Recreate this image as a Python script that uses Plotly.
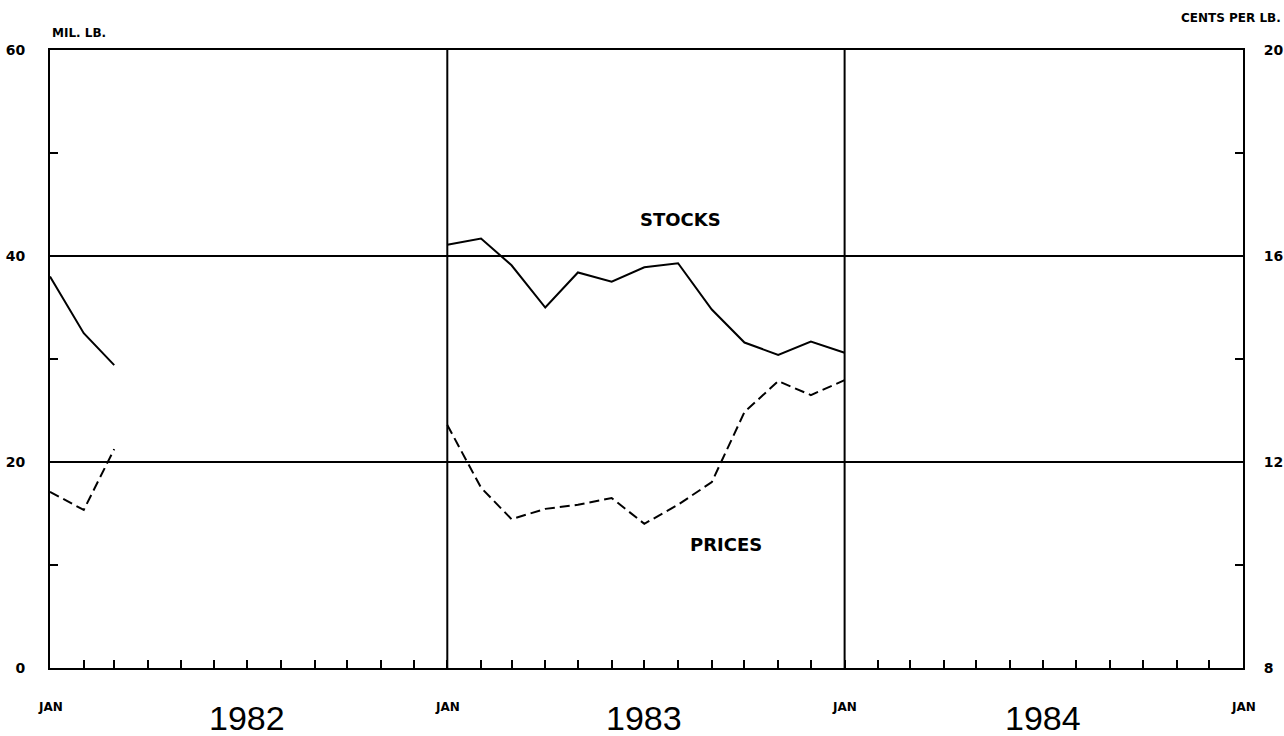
import plotly.graph_objects as go

# ---- data ----
months = [f"{y}-{m:02d}-01" for y in (1982, 1983) for m in range(1, 13)] + ["1984-01-01"]
stocks = [38.0, 32.5, 29.4] + [None] * 9 + [41.1, 41.7, 39.1, 35.0, 38.4, 37.5, 38.9, 39.3, 34.8, 31.6, 30.4, 31.7, 30.6]
prices = [11.42, 11.07, 12.25] + [None] * 9 + [12.72, 11.50, 10.89, 11.09, 11.17, 11.30, 10.80, 11.17, 11.61, 12.97, 13.57, 13.30, 13.59]

year_starts = ["1982-01-01", "1983-01-01", "1984-01-01", "1985-01-01"]
year_mids = ["1982-07-01", "1983-07-01", "1984-07-01"]
year_labels = ["1982", "1983", "1984"]
tick_months = [f"{y}-{m:02d}-01" for y in (1982, 1983, 1984) for m in range(1, 13)] + ["1985-01-01"]

left_ticks = [0, 20, 40, 60]
right_ticks = [8, 12, 16, 20]

BLOCK = dict(family="DejaVu Sans", size=12, color="black", weight="bold")
TICKF = dict(family="DejaVu Sans", size=14, color="black", weight="bold")

fig = go.Figure()
fig.add_trace(go.Scatter(x=months, y=stocks, mode="lines", name="STOCKS",
                         line=dict(color="black", width=2), connectgaps=False,
                         yaxis="y"))
fig.add_trace(go.Scatter(x=months, y=prices, mode="lines", name="PRICES",
                         line=dict(color="black", width=2, dash="10px,5px"), connectgaps=False,
                         yaxis="y2"))

# year-boundary vertical gridlines
for ys in year_starts[1:-1]:
    fig.add_shape(type="line", xref="x", yref="paper", x0=ys, x1=ys, y0=0, y1=1,
                  line=dict(color="black", width=2))

# JAN and year labels
for ys in year_starts:
    fig.add_annotation(x=ys, xref="x", y=0, yref="paper", text="JAN", showarrow=False,
                       yanchor="middle", yshift=-39, font=dict(BLOCK, size=12))
for ym, yl in zip(year_mids, year_labels):
    fig.add_annotation(x=ym, xref="x", y=0, yref="paper", text=yl, showarrow=False,
                       yanchor="middle", yshift=-50,
                       font=dict(family="Liberation Sans", size=34, color="black"))

fig.add_annotation(x=0, xref="paper", y=1, yref="paper", text="MIL. LB.", showarrow=False,
                   xanchor="left", yanchor="middle", xshift=0, yshift=17, font=BLOCK)
fig.add_annotation(x=1, xref="paper", y=1, yref="paper", text="CENTS PER LB.", showarrow=False,
                   xanchor="right", yanchor="middle", xshift=40, yshift=32, font=BLOCK)
fig.add_annotation(x="1983-08-03", xref="x", y=43.5, yref="y", text="STOCKS", showarrow=False,
                   font=dict(family="DejaVu Sans", size=18, color="black", weight="bold"))
fig.add_annotation(x="1983-09-14", xref="x", y=10.39, yref="y2", text="PRICES", showarrow=False,
                   font=dict(family="DejaVu Sans", size=18, color="black", weight="bold"))

fig.update_layout(
    width=1284, height=736,
    margin=dict(l=50, r=41, t=50, b=68, autoexpand=False),
    paper_bgcolor="white", plot_bgcolor="white",
    showlegend=False,
    xaxis=dict(type="date", range=["1982-01-01", "1985-01-01"], showgrid=False, zeroline=False,
               tickmode="array", tickvals=tick_months, showticklabels=False,
               ticks="inside", ticklen=8, tickwidth=2, tickcolor="black",
               showline=True, linewidth=2, linecolor="black", mirror=True),
    yaxis=dict(range=[0, 60], tickmode="array", tickvals=left_ticks,
               ticktext=[str(v) for v in left_ticks], showgrid=True, gridcolor="black",
               gridwidth=2, zeroline=False, ticks="", showline=True, linewidth=2,
               linecolor="black", tickfont=TICKF, ticklabelstandoff=20,
               minor=dict(tickvals=[10, 30, 50], ticks="inside", ticklen=8, tickwidth=2,
                          tickcolor="black", showgrid=False)),
    yaxis2=dict(range=[8, 20], overlaying="y", side="right", tickmode="array",
                tickvals=right_ticks, ticktext=[str(v) for v in right_ticks],
                showgrid=False, zeroline=False, ticks="", showline=True, linewidth=2,
                linecolor="black", tickfont=TICKF, ticklabelstandoff=16,
                minor=dict(tickvals=[10, 14, 18], ticks="inside", ticklen=8, tickwidth=2,
                           tickcolor="black", showgrid=False)),
)

fig.write_html("out.html", config={"displayModeBar": False},
               post_script="document.body.style.margin='0';document.body.style.overflow='hidden';")
